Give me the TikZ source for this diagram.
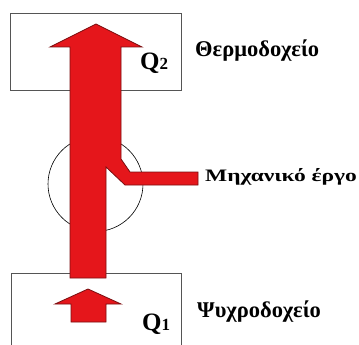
\documentclass[tikz,border=0pt]{standalone}
\usepackage{fontspec}
\setmainfont{Liberation Serif}
\definecolor{heatred}{HTML}{E5161B}
\definecolor{heatedge}{HTML}{7A0E10}
\definecolor{boxline}{HTML}{555555}
\begin{document}
\begin{tikzpicture}[x=1pt,y=-1pt,
  reservoir/.style={draw=boxline,line width=0.9pt,fill=white},
  flow/.style={fill=heatred,draw=heatedge,line width=0.8pt,line join=miter},
  label/.style={font=\bfseries\fontsize{22.5}{26}\selectfont,anchor=base west,inner sep=0pt},
  worklabel/.style={font=\bfseries\fontsize{17.5}{20}\selectfont,anchor=base west,inner sep=0pt},
  qlabel/.style={font=\bfseries\fontsize{25}{28}\selectfont,anchor=base west,inner sep=0pt}]
\useasboundingbox (0,0) rectangle (359,345);
\clip (0,0) rectangle (359,345);
% reservoirs
\node[reservoir,minimum width=171pt,minimum height=77pt] (hot) at (95.5,51.5) {};
\node[reservoir,minimum width=170pt,minimum height=90pt] (cold) at (96,318) {};
% engine
\node[draw=black,line width=0.6pt,circle,minimum size=95pt,inner sep=0pt] (engine) at (95.5,184) {};
% heat flow through the engine, with the work branch
\draw[flow] (96,24) -- (142,47) -- (121,47) -- (121,159) -- (130,172) -- (198,172)
  -- (198,185) -- (125,185) -- (106,167) -- (106,278) -- (70,278) -- (70,47)
  -- (50,47) -- cycle;
% heat drawn from the cold reservoir
\draw[flow] (88,289) -- (121,304) -- (106,304) -- (106,322) -- (71,322) -- (71,304)
  -- (55,304) -- cycle;
% labels
\node[qlabel] (q2) at (140,70) {Q\fontsize{17}{20}\selectfont 2};
\node[qlabel] (q1) at (142,330) {Q\fontsize{17}{20}\selectfont 1};
\node[label] (hotlabel) at (195,57) {Θερμοδοχείο};
\node[label] (coldlabel) at (197,317) {Ψυχροδοχείο};
\node[worklabel] (work) at (205,181) {\scalebox{1.34}[1]{Μηχανικό έργο}};
\end{tikzpicture}
\end{document}
